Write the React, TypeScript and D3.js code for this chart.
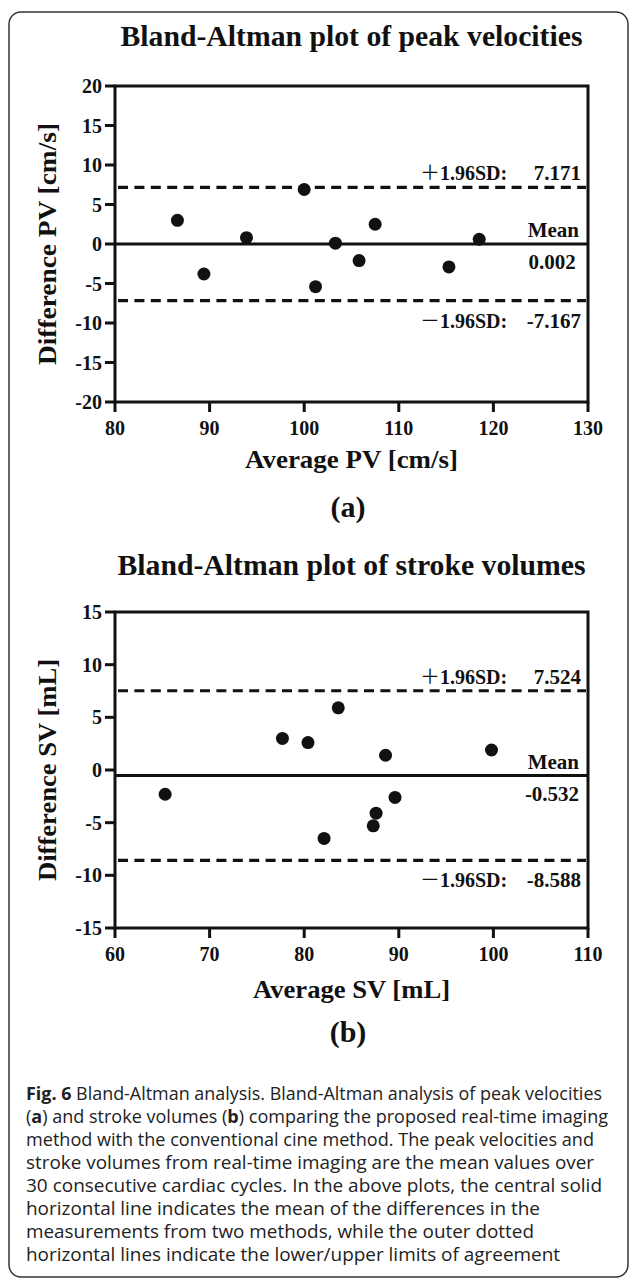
import React from "react";
import * as d3 from "d3";

// ---------- data ----------
const pvAvg = [86.6, 89.4, 93.9, 100.0, 101.2, 103.3, 105.8, 107.5, 115.3, 118.5];
const pvDiff = [3.0, -3.8, 0.8, 6.9, -5.4, 0.1, -2.1, 2.5, -2.9, 0.6];
const pvLimits = [7.171, 0.002, -7.167]; // +1.96SD, mean, -1.96SD
const pvXTicks = [80, 90, 100, 110, 120, 130];
const pvYTicks = [-20, -15, -10, -5, 0, 5, 10, 15, 20];

const svAvg = [65.3, 77.7, 80.4, 83.6, 82.1, 87.3, 87.6, 88.6, 89.6, 99.8];
const svDiff = [-2.3, 3.0, 2.6, 5.9, -6.5, -5.3, -4.1, 1.4, -2.6, 1.9];
const svLimits = [7.524, -0.532, -8.588];
const svXTicks = [60, 70, 80, 90, 100, 110];
const svYTicks = [-15, -10, -5, 0, 5, 10, 15];

const captionLines = [
  [{ t: "Fig. 6", b: true }, { t: " Bland-Altman analysis. Bland-Altman analysis of peak velocities" }],
  [{ t: "(" }, { t: "a", b: true }, { t: ") and stroke volumes (" }, { t: "b", b: true }, { t: ") comparing the proposed real-time imaging" }],
  [{ t: "method with the conventional cine method. The peak velocities and" }],
  [{ t: "stroke volumes from real-time imaging are the mean values over" }],
  [{ t: "30 consecutive cardiac cycles. In the above plots, the central solid" }],
  [{ t: "horizontal line indicates the mean of the differences in the" }],
  [{ t: "measurements from two methods, while the outer dotted" }],
  [{ t: "horizontal lines indicate the lower/upper limits of agreement" }],
];
const captionWidths = [576, 582, 568, 568, 576, 514, 508, 534];

const SERIF = "'Liberation Serif', 'Times New Roman', serif";
const INK = "#111";
const fmt = d3
  .formatLocale({ decimal: ".", thousands: ",", grouping: [3], currency: ["", ""], minus: "-" })
  .format(".3f");

type PlotProps = {
  title: string;
  titleY: number;
  titleLen: number;
  top: number;
  bottom: number;
  xs: number[];
  ys: number[];
  limits: number[];
  xTicks: number[];
  yTicks: number[];
  xLabel: string;
  xLabelY: number;
  xLabelLen: number;
  yLabel: string;
  yLabelLen: number;
  panel: string;
  panelY: number;
};

function Plot(p: PlotProps) {
  const left = 115;
  const right = 588;
  const x = d3.scaleLinear().domain([p.xTicks[0], p.xTicks[p.xTicks.length - 1]]).range([left, right]);
  const y = d3.scaleLinear().domain([p.yTicks[0], p.yTicks[p.yTicks.length - 1]]).range([p.bottom, p.top]);
  const cx = (left + right) / 2;
  const [up, mean, lo] = p.limits;
  return (
    <g>
      <text x={cx} y={p.titleY} textAnchor="middle" fontFamily={SERIF} fontWeight="bold" fontSize={29}
        textLength={p.titleLen} lengthAdjust="spacingAndGlyphs" fill={INK}>{p.title}</text>
      {/* limit lines */}
      <line x1={left + 3} x2={right - 2} y1={y(up)} y2={y(up)} stroke={INK} strokeWidth={3.2} strokeDasharray="10,6.4" />
      <line x1={left + 3} x2={right - 2} y1={y(lo)} y2={y(lo)} stroke={INK} strokeWidth={3.2} strokeDasharray="10,6.4" />
      <line x1={left} x2={right} y1={y(mean)} y2={y(mean)} stroke={INK} strokeWidth={3} />
      {/* frame */}
      <rect x={left} y={p.top} width={right - left} height={p.bottom - p.top} fill="none" stroke={INK} strokeWidth={3} />
      {/* y ticks */}
      {p.yTicks.map((t) => (
        <g key={"y" + t}>
          <line x1={left - 10} x2={left} y1={y(t)} y2={y(t)} stroke={INK} strokeWidth={3} />
          <text x={left - 13} y={y(t)} dy="0.35em" textAnchor="end" fontFamily={SERIF} fontWeight="bold" fontSize={20} fill={INK}>{t}</text>
        </g>
      ))}
      {/* x ticks */}
      {p.xTicks.map((t) => (
        <g key={"x" + t}>
          <line x1={x(t)} x2={x(t)} y1={p.bottom} y2={p.bottom + 10} stroke={INK} strokeWidth={3} />
          <text x={x(t)} y={p.bottom + 33} textAnchor="middle" fontFamily={SERIF} fontWeight="bold" fontSize={20} fill={INK}>{t}</text>
        </g>
      ))}
      {/* points */}
      {p.xs.map((v, i) => (
        <circle key={"p" + i} cx={x(v)} cy={y(p.ys[i])} r={6.5} fill={INK} />
      ))}
      {/* labels */}
      <text x={420} y={y(up) - 7} fontFamily="'Noto Sans CJK SC', sans-serif" fontSize={20} fill={INK}>＋</text>
      <text x={440} y={y(up) - 7} fontFamily={SERIF} fontWeight="bold" fontSize={20} fill={INK}>1.96SD:</text>
      <text x={581} y={y(up) - 7} textAnchor="end" fontFamily={SERIF} fontWeight="bold" fontSize={21} fill={INK}>{fmt(up)}</text>
      <text x={579} y={y(mean) - 7} textAnchor="end" fontFamily={SERIF} fontWeight="bold" fontSize={21} fill={INK}>Mean</text>
      <text x={552} y={y(mean) + 25} textAnchor="middle" fontFamily={SERIF} fontWeight="bold" fontSize={21} fill={INK}>{fmt(mean)}</text>
      <text x={420} y={y(lo) + 27} fontFamily="'Noto Sans CJK SC', sans-serif" fontSize={20} fill={INK}>－</text>
      <text x={440} y={y(lo) + 27} fontFamily={SERIF} fontWeight="bold" fontSize={20} fill={INK}>1.96SD:</text>
      <text x={581} y={y(lo) + 27} textAnchor="end" fontFamily={SERIF} fontWeight="bold" fontSize={21} fill={INK}>{fmt(lo)}</text>
      {/* axis titles */}
      <text x={cx} y={p.xLabelY} textAnchor="middle" fontFamily={SERIF} fontWeight="bold" fontSize={26}
        textLength={p.xLabelLen} lengthAdjust="spacingAndGlyphs" fill={INK}>{p.xLabel}</text>
      <text transform={`translate(56, ${(p.top + p.bottom) / 2}) rotate(-90)`} textAnchor="middle" fontFamily={SERIF}
        fontWeight="bold" fontSize={26} textLength={p.yLabelLen} lengthAdjust="spacingAndGlyphs" fill={INK}>{p.yLabel}</text>
      <text x={348} y={p.panelY} textAnchor="middle" fontFamily={SERIF} fontWeight="bold" fontSize={30} fill={INK}>{p.panel}</text>
    </g>
  );
}

export default function App() {
  return (
    <svg width={630} height={1280} style={{ position: "absolute", left: 0, top: 0, background: "#fff" }}>
      <rect x={0} y={0} width={630} height={1280} fill="#fff" />
      <rect x={9} y={12} width={619} height={1265} rx={12} ry={12} fill="none" stroke="#333" strokeWidth={1.5} />
      <Plot title="Bland-Altman plot of peak velocities" titleY={46} titleLen={462} top={86} bottom={402}
        xs={pvAvg} ys={pvDiff} limits={pvLimits} xTicks={pvXTicks} yTicks={pvYTicks}
        xLabel="Average PV [cm/s]" xLabelY={468} xLabelLen={213} yLabel="Difference PV [cm/s]" yLabelLen={242}
        panel="(a)" panelY={517} />
      <Plot title="Bland-Altman plot of stroke volumes" titleY={575} titleLen={468} top={612} bottom={928}
        xs={svAvg} ys={svDiff} limits={svLimits} xTicks={svXTicks} yTicks={svYTicks}
        xLabel="Average SV [mL]" xLabelY={998} xLabelLen={197} yLabel="Difference SV [mL]" yLabelLen={222}
        panel="(b)" panelY={1042} />
      {captionLines.map((line, i) => (
        <text key={"c" + i} x={26} y={1100 + i * 23} fontFamily="'Open Sans', sans-serif" fontSize={18} fill="#222"
          textLength={captionWidths[i]} lengthAdjust="spacingAndGlyphs">
          {line.map((s, j) => (
            <tspan key={j} fontWeight={s.b ? "bold" : "normal"}>{s.t}</tspan>
          ))}
        </text>
      ))}
    </svg>
  );
}
